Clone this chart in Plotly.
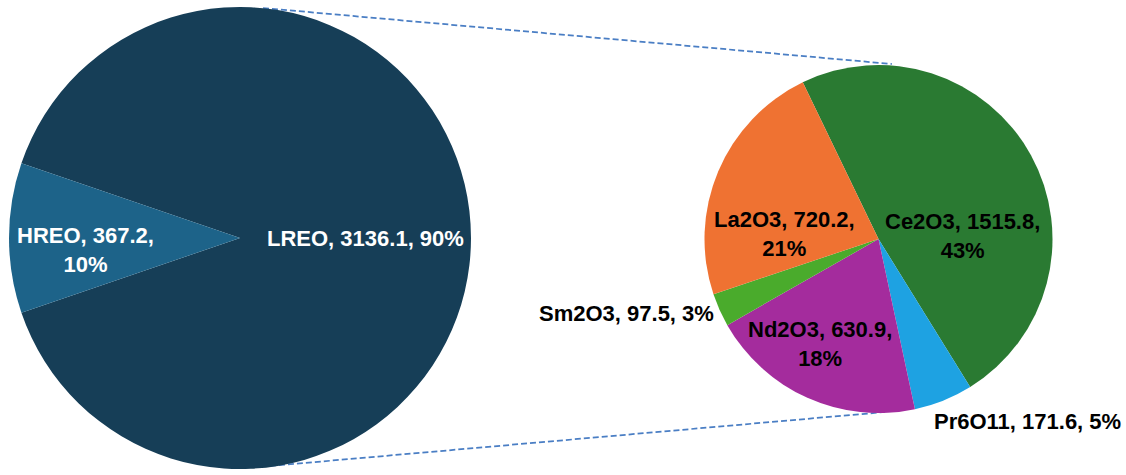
import plotly.graph_objects as go

# ---------------- data ----------------
main_labels = ["LREO", "HREO"]
main_values = [3136.1, 367.2]

sub_labels = ["Ce2O3", "Pr6O11", "Nd2O3", "Sm2O3", "La2O3"]
sub_values = [1515.8, 171.6, 630.9, 97.5, 720.2]

# ---------------- style ----------------
W, H = 1126, 475
main_colors = ["#163e57", "#1d6389"]
sub_colors = ["#2a7a32", "#1ea2e2", "#a42c9d", "#4aab2c", "#ef7232"]
FONT = "Arial, Liberation Sans, sans-serif"
FSIZE = 22


def px(x):
    return x / W


def py(y):
    return 1 - y / H


total = sum(main_values)


def fmt(label, value):
    return f"{label}, {value:.1f}, {round(value / total * 100):d}%"


# rotation so the HREO slice is centred on 9 o'clock
hreo_deg = main_values[1] / total * 360
rot_main = -(90 - hreo_deg / 2)
# secondary pie: first slice (Ce2O3) starts ~26 deg left of 12 o'clock
rot_sub = -25.8

fig = go.Figure()
fig.add_trace(go.Pie(
    labels=main_labels, values=main_values, sort=False, direction="clockwise",
    rotation=rot_main,
    domain=dict(x=[px(9), px(471)], y=[py(469), py(7)]),
    marker=dict(colors=main_colors, line=dict(width=0)),
    textinfo="none", showlegend=False, hoverinfo="label+value+percent",
))
fig.add_trace(go.Pie(
    labels=sub_labels, values=sub_values, sort=False, direction="clockwise",
    rotation=rot_sub,
    domain=dict(x=[px(704.5), px(1052.5)], y=[py(413), py(65)]),
    marker=dict(colors=sub_colors, line=dict(width=0)),
    textinfo="none", showlegend=False, hoverinfo="label+value",
))

# label placement (pixel centres) and wrapping
main_label_pos = {"LREO": (365, 238, False), "HREO": (85, 250, True)}
sub_label_pos = {
    "Ce2O3": (962, 236, True),
    "La2O3": (785, 234, True),
    "Nd2O3": (820, 344, True),
    "Sm2O3": (626, 313, False),
    "Pr6O11": (1027, 421, False),
}

annotations = []
for lab, val in zip(main_labels, main_values):
    x, y, wrap = main_label_pos[lab]
    t = fmt(lab, val)
    if wrap:
        a, b = t.rsplit(", ", 1)
        t = a + ",<br>" + b
    annotations.append(dict(x=px(x), y=py(y), xref="paper", yref="paper",
                            text=f"<b>{t}</b>", showarrow=False,
                            xanchor="center", yanchor="middle",
                            font=dict(family=FONT, size=FSIZE, color="white")))
for lab, val in zip(sub_labels, sub_values):
    x, y, wrap = sub_label_pos[lab]
    t = fmt(lab, val)
    if wrap:
        a, b = t.rsplit(", ", 1)
        t = a + ",<br>" + b
    annotations.append(dict(x=px(x), y=py(y), xref="paper", yref="paper",
                            text=f"<b>{t}</b>", showarrow=False,
                            xanchor="center", yanchor="middle",
                            font=dict(family=FONT, size=FSIZE, color="black")))

line_style = dict(color="#4a7ec4", width=1.75, dash="6px,3px")
shapes = [
    dict(type="line", xref="paper", yref="paper", layer="below",
         x0=px(263), y0=py(8), x1=px(892), y1=py(64), line=line_style),
    dict(type="line", xref="paper", yref="paper", layer="below",
         x0=px(270), y0=py(466), x1=px(885), y1=py(412), line=line_style),
]

fig.update_layout(
    width=W, height=H,
    margin=dict(l=0, r=0, t=0, b=0),
    paper_bgcolor="white", plot_bgcolor="white",
    showlegend=False,
    annotations=annotations,
    shapes=shapes,
)

fig.write_html(
    "out.html",
    config={"displayModeBar": False},
    post_script="document.body.style.margin='0';document.body.style.overflow='hidden';",
)
